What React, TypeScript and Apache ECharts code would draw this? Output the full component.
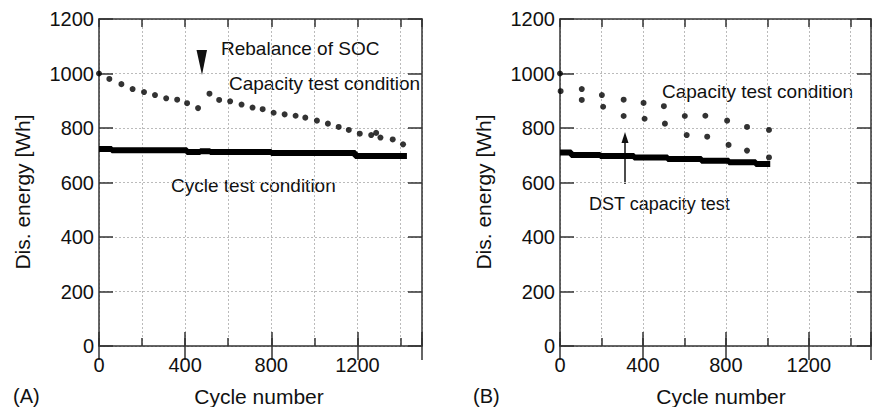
import React, { useEffect, useRef } from "react";
import * as echarts from "echarts";

// ---- Data ----
// Panel A: capacity test condition points
const capAX = [0, 48, 104, 156, 209, 260, 312, 363, 409, 460, 513, 558, 609, 662, 713, 760, 811, 862, 913, 958, 1012, 1063, 1113, 1160, 1211, 1264, 1287, 1307, 1364, 1412];
const capAY = [1000, 980, 961, 943, 932, 921, 909, 904, 891, 873, 926, 903, 898, 886, 875, 869, 856, 850, 845, 838, 827, 816, 804, 793, 779, 774, 782, 765, 758, 740];
// Panel A: cycle test condition (dense band)
const cycAX = [0, 59, 59, 408, 408, 470, 470, 516, 516, 800, 800, 1190, 1190, 1430];
const cycAY = [723, 723, 718, 718, 712, 712, 715, 715, 712, 712, 708, 708, 697, 697];
// Panel B: capacity test condition points
const capBX = [0, 3, 105, 105, 202, 208, 307, 307, 403, 408, 501, 506, 602, 611, 701, 710, 806, 813, 902, 902, 1008, 1008];
const capBY = [1000, 935, 943, 903, 921, 878, 904, 844, 892, 834, 880, 816, 844, 774, 845, 768, 827, 738, 804, 717, 793, 692];
// Panel B: cycle (DST) band
const cycBX = [0, 54, 54, 194, 194, 357, 357, 519, 519, 682, 682, 814, 814, 944, 944, 1014];
const cycBY = [710, 710, 701, 701, 697, 697, 692, 692, 686, 686, 680, 680, 674, 674, 668, 668];

const xLabels = [0, 400, 800, 1200];
const yLabels = [0, 200, 400, 600, 800, 1000, 1200];

const FONT = "'Liberation Sans', Arial, Helvetica, sans-serif";
const INK = "#111";
const AXIS = "#333";

const zip = (xs: number[], ys: number[]) => xs.map((x, i) => [x, ys[i]]);

function xAxesFor(gridIndex: number) {
  const base = {
    type: "value",
    gridIndex,
    min: 0,
    max: 1500,
    axisLine: { show: true, onZero: false, lineStyle: { color: AXIS, width: 1.5 } },
  };
  return [
    {
      ...base,
      position: "bottom",
      interval: 200,
      axisTick: { show: true, inside: true, length: 8, lineStyle: { color: AXIS, width: 1.5 } },
      axisLabel: {
        show: true,
        margin: 9,
        fontSize: 20,
        fontFamily: FONT,
        color: INK,
        formatter: (v: number) => (xLabels.indexOf(v) >= 0 ? String(v) : ""),
      },
      splitLine: { show: true, lineStyle: { color: "#bbbbbb", width: 1, type: [2, 2] } },
    },
    {
      ...base,
      position: "bottom",
      interval: 400,
      axisLine: { show: false },
      axisTick: { show: true, inside: true, length: 14, lineStyle: { color: AXIS, width: 1.5 } },
      axisLabel: { show: false },
      splitLine: { show: false },
    },
    {
      ...base,
      position: "top",
      interval: 200,
      axisTick: { show: true, inside: true, length: 8, lineStyle: { color: AXIS, width: 1.5 } },
      axisLabel: { show: false },
      splitLine: { show: false },
    },
    {
      ...base,
      position: "top",
      interval: 400,
      axisLine: { show: false },
      axisTick: { show: true, inside: true, length: 14, lineStyle: { color: AXIS, width: 1.5 } },
      axisLabel: { show: false },
      splitLine: { show: false },
    },
  ];
}

function yAxesFor(gridIndex: number) {
  const base = {
    type: "value",
    gridIndex,
    min: 0,
    max: 1200,
    interval: 200,
    axisLine: { show: true, onZero: false, lineStyle: { color: AXIS, width: 1.5 } },
    axisTick: { show: true, inside: true, length: 14, lineStyle: { color: AXIS, width: 1.5 } },
  };
  return [
    {
      ...base,
      position: "left",
      axisLabel: {
        show: true,
        margin: 5,
        fontSize: 20,
        fontFamily: FONT,
        color: INK,
        formatter: (v: number) => (yLabels.indexOf(v) >= 0 ? String(v) : ""),
      },
      splitLine: { show: true, lineStyle: { color: "#bbbbbb", width: 1, type: [2, 2] } },
    },
    {
      ...base,
      position: "right",
      axisLabel: { show: false },
      splitLine: { show: false },
    },
  ];
}

function txt(x: number, y: number, text: string, size: number, align = "left", rotation = 0) {
  return {
    type: "text",
    x,
    y,
    rotation,
    style: {
      text,
      fontSize: size,
      fontFamily: FONT,
      fill: INK,
      align,
      verticalAlign: "middle",
    },
  };
}

export default function App() {
  const ref = useRef<HTMLDivElement>(null);
  useEffect(() => {
    document.body.style.margin = "0";
    if (!ref.current) return;
    const chart = echarts.init(ref.current, undefined, { renderer: "svg" });
    const dotStyle = { color: "#000" };
    chart.setOption({
      animation: false,
      backgroundColor: "#fff",
      grid: [
        { left: 99, top: 19, width: 323, height: 327 },
        { left: 560, top: 19, width: 322, height: 327 },
      ],
      xAxis: [...xAxesFor(0), ...xAxesFor(1)],
      yAxis: [...yAxesFor(0), ...yAxesFor(1)],
      series: [
        {
          type: "line",
          xAxisIndex: 0,
          yAxisIndex: 0,
          data: zip(cycAX, cycAY),
          symbol: "none",
          lineStyle: { color: "#000", width: 6 },
        },
        {
          type: "scatter",
          xAxisIndex: 0,
          yAxisIndex: 0,
          data: zip(capAX, capAY),
          symbolSize: 6,
          itemStyle: dotStyle,
          clip: false,
        },
        {
          type: "line",
          xAxisIndex: 4,
          yAxisIndex: 2,
          data: zip(cycBX, cycBY),
          symbol: "none",
          lineStyle: { color: "#000", width: 6 },
        },
        {
          type: "scatter",
          xAxisIndex: 4,
          yAxisIndex: 2,
          data: zip(capBX, capBY),
          symbolSize: 6,
          itemStyle: dotStyle,
          clip: false,
        },
      ],
      graphic: [
        // axis titles
        txt(22, 192, "Dis. energy [Wh]", 21, "center", Math.PI / 2),
        txt(483, 192, "Dis. energy [Wh]", 21, "center", Math.PI / 2),
        txt(259, 396, "Cycle number", 21, "center"),
        txt(721, 396, "Cycle number", 21, "center"),
        txt(13, 396, "(A)", 20, "left"),
        txt(473, 396, "(B)", 20, "left"),
        // annotations panel A
        txt(221, 48, "Rebalance of SOC", 19, "left"),
        txt(229, 83, "Capacity test condition", 19, "left"),
        txt(171, 185, "Cycle test condition", 19, "left"),
        {
          type: "polygon",
          shape: { points: [[196.5, 50], [207, 50], [202, 75]] },
          style: { fill: "#111" },
        },
        // annotations panel B
        txt(662, 91.5, "Capacity test condition", 19, "left"),
        txt(589, 204, "DST capacity test", 18, "left"),
        {
          type: "line",
          shape: { x1: 625, y1: 184, x2: 625, y2: 140 },
          style: { stroke: "#111", lineWidth: 1.5 },
        },
        {
          type: "polygon",
          shape: { points: [[621.5, 143], [628.5, 143], [625, 132]] },
          style: { fill: "#111" },
        },
      ],
    });
    return () => chart.dispose();
  }, []);
  return <div ref={ref} style={{ width: 874, height: 407 }} />;
}
